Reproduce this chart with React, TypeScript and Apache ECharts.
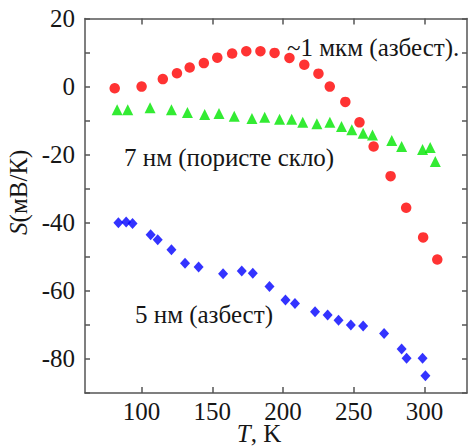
import React, { useEffect, useRef } from "react";
import * as echarts from "echarts";

const redT = [81, 100, 115, 125, 134, 144, 153.5, 164, 174, 184, 194, 204.5, 215, 225, 233, 244, 254, 264, 276, 287, 299, 309];
const redS = [-0.5, 0, 2.2, 3.9, 5.6, 6.9, 8.5, 9.7, 10.4, 10.4, 9.9, 8.4, 6.4, 3.8, 0, -4.5, -10.5, -17.6, -26.3, -35.6, -44.3, -50.8];

const greenT = [82.7, 90.2, 106, 121.1, 132.4, 144.6, 154.7, 165.5, 178, 187, 197.5, 206.1, 213.9, 223.9, 233.1, 241.3, 248.6, 256.6, 263.2, 276.8, 283.8, 298.6, 304, 307.6];
const greenS = [-6.8, -6.8, -6.2, -6.8, -7.6, -8.2, -7.9, -8.7, -9.4, -9.0, -9.6, -9.6, -10.5, -10.9, -10.5, -11.7, -12.7, -13.7, -14.2, -15.8, -17.6, -18.5, -17.9, -22.0];

const blueT = [83.6, 89.1, 93.6, 106.4, 111.4, 121.1, 130.7, 140.3, 157.6, 170.8, 178.6, 190.4, 201.7, 208.4, 222.6, 231.5, 239.2, 247.9, 256.6, 271.4, 283.8, 287.3, 298.6, 300.6];
const blueS = [-40, -39.8, -40.2, -43.5, -45, -47.9, -51.9, -53, -55, -54.2, -54.8, -58.7, -62.7, -63.7, -66.1, -67.1, -68.6, -70, -70.3, -72.5, -77.1, -79.8, -79.8, -84.9];

const xTicks = [100, 150, 200, 250, 300];
const yTicks = [-80, -60, -40, -20, 0, 20];

const labelRed = "~1 мкм (азбест).";
const labelGreen = "7 нм (пористе скло)";
const labelBlue = "5 нм (азбест)";
const xTitle = "{i|T}{a|, K}";
const yTitle = "{i|S}{a|(мВ/К)}";

const FONT = "Liberation Serif";
const TXT = "#161616";
const AX = "#555";

const zip = (a: number[], b: number[]) => a.map((v, i) => [v, b[i]]);

export default function App() {
  const ref = useRef<HTMLDivElement>(null);
  useEffect(() => {
    if (!ref.current) return;
    const chart = echarts.init(ref.current, null, { renderer: "svg" });
    const axisLine = { show: true, onZero: false, lineStyle: { color: AX, width: 1.5 } };
    const tickStyle = { color: AX, width: 1.5 };
    const richT = {
      a: { fontFamily: FONT, fontSize: 25, color: TXT },
      i: { fontFamily: FONT, fontSize: 25, fontStyle: "italic", color: TXT },
    };
    const fmt = (v: number) => `{a|${v}}`;
    chart.setOption({
      animation: false,
      backgroundColor: "#fff",
      textStyle: { fontFamily: FONT },
      grid: {
        left: 85,
        top: 18.5,
        width: 382,
        height: 374.5,
        containLabel: false,
        outerBoundsMode: "none",
      },
      xAxis: [
        {
          type: "value",
          min: 60,
          max: 330,
          position: "bottom",
          axisLine,
          axisTick: { show: true, inside: true, length: 6, customValues: xTicks, lineStyle: tickStyle },
          axisLabel: {
            show: true,
            customValues: xTicks,
            margin: 6,
            fontFamily: FONT,
            fontSize: 25,
            color: TXT,
            formatter: fmt,
            rich: richT,
          },
          splitLine: { show: false },
        },
        {
          type: "value",
          min: 60,
          max: 330,
          position: "top",
          axisLine,
          axisTick: { show: true, inside: true, length: 6, customValues: xTicks, lineStyle: tickStyle },
          axisLabel: { show: false },
          splitLine: { show: false },
        },
      ],
      yAxis: [
        {
          type: "value",
          min: -90,
          max: 20,
          interval: 10,
          position: "left",
          axisLine,
          axisTick: { show: true, inside: true, length: 5, lineStyle: tickStyle },
          axisLabel: {
            show: true,
            customValues: yTicks,
            margin: 10,
            fontFamily: FONT,
            fontSize: 25,
            color: TXT,
            formatter: fmt,
            rich: richT,
          },
          splitLine: { show: false },
          name: yTitle,
          nameLocation: "middle",
          nameGap: 45,
          nameTextStyle: { fontFamily: FONT, fontSize: 25, color: TXT, rich: richT, padding: [0, 0, 0, 27] },
        },
        {
          type: "value",
          min: -90,
          max: 20,
          interval: 10,
          position: "right",
          axisLine,
          axisTick: { show: true, inside: true, length: 5, lineStyle: tickStyle },
          axisLabel: { show: false },
          splitLine: { show: false },
        },
      ],
      series: [
        {
          type: "scatter",
          xAxisIndex: 0,
          yAxisIndex: 0,
          symbol: "circle",
          symbolSize: 10.5,
          itemStyle: { color: "#ff0000" },
          data: zip(redT, redS),
          z: 3,
        },
        {
          type: "scatter",
          xAxisIndex: 0,
          yAxisIndex: 0,
          symbol: "triangle",
          symbolSize: 11,
          itemStyle: { color: "#00e600" },
          data: zip(greenT, greenS),
          z: 3,
        },
        {
          type: "scatter",
          xAxisIndex: 0,
          yAxisIndex: 0,
          symbol: "diamond",
          symbolSize: [10, 11],
          itemStyle: { color: "#0000ff" },
          data: zip(blueT, blueS),
          z: 3,
        },
      ],
      graphic: [
        {
          type: "text",
          x: 259,
          y: 433,
          z: 10,
          style: {
            text: xTitle,
            fontFamily: FONT,
            fontSize: 25,
            fill: TXT,
            rich: richT,
            verticalAlign: "middle",
            align: "center",
          },
        },
        {
          type: "text",
          x: 287,
          y: 47,
          z: 10,
          style: { text: labelRed, fontFamily: FONT, fontSize: 25, fill: TXT, verticalAlign: "middle", align: "left" },
        },
        {
          type: "text",
          x: 124,
          y: 157,
          z: 10,
          style: { text: labelGreen, fontFamily: FONT, fontSize: 25, fill: TXT, verticalAlign: "middle", align: "left" },
        },
        {
          type: "text",
          x: 135,
          y: 314,
          z: 10,
          style: { text: labelBlue, fontFamily: FONT, fontSize: 25, fill: TXT, verticalAlign: "middle", align: "left" },
        },
      ],
    });
    return () => chart.dispose();
  }, []);
  return (
    <div
      ref={ref}
      style={{ position: "fixed", left: 0, top: 0, width: 468, height: 447, background: "#fff" }}
    />
  );
}
